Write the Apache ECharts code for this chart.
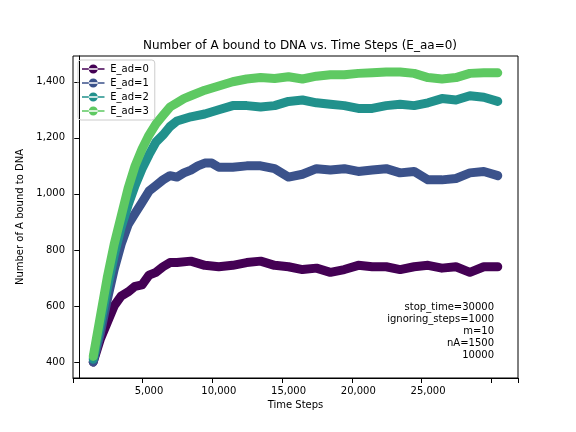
<!DOCTYPE html>
<html><head><meta charset="utf-8">
<script src="https://cdn.jsdelivr.net/npm/echarts@6/dist/echarts.min.js"></script>
<style>html,body{margin:0;background:#fff}#c{width:576px;height:432px}</style>
</head><body><div id="c"></div>
<script>
const seriesNames = ['E_ad=0','E_ad=1','E_ad=2','E_ad=3'];
const colors = ['#440154','#3b528b','#21918c','#5ec962'];
const x0 = [1000,1500,2000,2500,3000,3500,4000,4500,5000,5500,6000,6500,7000,8000,9000,10000,11000,12000,13000,14000,15000,16000,17000,18000,19000,20000,21000,22000,23000,24000,25000,26000,27000,28000,29000,30000];
const y0 = [400,480,540,600,635,650,670,675,710,720,740,755,755,760,745,740,745,755,760,745,740,730,735,720,730,745,740,740,730,740,745,735,740,720,740,740];
const x1 = [1000,1500,2000,2500,3000,3500,4000,4500,5000,5500,6000,6500,7000,7500,8000,8500,9000,9500,10000,11000,12000,13000,14000,15000,16000,17000,18000,19000,20000,21000,22000,23000,24000,25000,26000,27000,28000,29000,30000];
const y1 = [400,500,620,730,820,890,930,970,1010,1030,1050,1065,1060,1075,1085,1100,1110,1110,1095,1095,1100,1100,1090,1060,1070,1090,1085,1090,1080,1085,1090,1075,1080,1050,1050,1055,1075,1080,1065];
const x2 = [1000,1500,2000,2500,3000,3500,4000,4500,5000,5500,6000,6500,7000,8000,9000,10000,11000,12000,13000,14000,15000,16000,17000,18000,19000,20000,21000,22000,23000,24000,25000,26000,27000,28000,29000,30000];
const y2 = [410,530,660,780,880,960,1030,1090,1140,1185,1210,1240,1260,1275,1285,1300,1315,1315,1310,1315,1330,1335,1325,1320,1315,1305,1305,1315,1320,1315,1325,1340,1335,1350,1345,1330];
const x3 = [1000,1500,2000,2500,3000,3500,4000,4500,5000,5500,6000,6500,7000,7500,8000,9000,10000,11000,12000,13000,14000,15000,16000,17000,18000,19000,20000,21000,22000,23000,24000,25000,26000,27000,28000,29000,30000];
const y3 = [420,560,700,820,920,1020,1100,1160,1210,1250,1280,1310,1325,1340,1350,1370,1385,1400,1410,1415,1412,1418,1410,1420,1425,1425,1430,1432,1435,1435,1430,1415,1410,1415,1430,1432,1432];
const annot = ['stop_time=30000','ignoring_steps=1000','m=10','nA=1500','10000'];
const xs=[x0,x1,x2,x3], ys=[y0,y1,y2,y3];
const font='DejaVu Sans';
const chart = echarts.init(document.getElementById('c'));
const icon='path://M0,9h30v2h-30z M15,4a6,6 0 1,0 0.01,0z';
chart.setOption({
  animation:false,
  textStyle:{fontFamily:font},
  title:{text:'Number of A bound to DNA vs. Time Steps (E_aa=0)',left:295,top:35,textAlign:'center',textStyle:{fontSize:12,fontWeight:'normal',color:'#000',fontFamily:font}},
  grid:{left:73,right:58,top:56,bottom:54},
  legend:{orient:'vertical',left:78,top:60,itemWidth:24,itemHeight:9,itemGap:4,icon:icon,
    borderColor:'#ccc',borderWidth:1,borderRadius:3,padding:[4,6,4,4],
    textStyle:{fontSize:10,color:'#000',fontFamily:font},data:seriesNames},
  xAxis:{type:'value',min:-450,max:31450,interval:5000,
    name:'Time Steps',nameLocation:'middle',nameGap:20,nameTextStyle:{fontSize:10,color:'#000'},
    axisLine:{onZero:false,lineStyle:{color:'#000'}},axisTick:{lineStyle:{color:'#000'}},
    axisLabel:{fontSize:10,color:'#000',showMinLabel:false,showMaxLabel:false,customValues:[0,5000,10000,15000,20000,25000,30000]},
    splitLine:{show:false}},
  yAxis:{type:'value',min:343,max:1492,
    name:'Number of A bound to DNA',nameLocation:'middle',nameGap:38,nameTextStyle:{fontSize:10,color:'#000'},
    axisLine:{show:true,lineStyle:{color:'#000'}},axisTick:{show:true,lineStyle:{color:'#000'},customValues:[400,600,800,1000,1200,1400]},
    axisLabel:{fontSize:10,color:'#000',customValues:[400,600,800,1000,1200,1400]},
    splitLine:{show:false}},
  graphic:[{type:'rect',shape:{x:73,y:56,width:445,height:322},style:{fill:'none',stroke:'#000',lineWidth:1},silent:true}].concat(
    annot.map((t,i)=>({type:'text',right:82,top:302+i*12,style:{text:t,fontSize:10,fill:'#000',fontFamily:font,textAlign:'right'}}))),
  series: seriesNames.map((n,i)=>({
    name:n,type:'line',showSymbol:false,symbol:'circle',color:colors[i],
    lineStyle:{width:9,color:colors[i],cap:'round',join:'round'},
    data: xs[i].map((x,j)=>[x,ys[i][j]])
  }))
});
</script></body></html>
